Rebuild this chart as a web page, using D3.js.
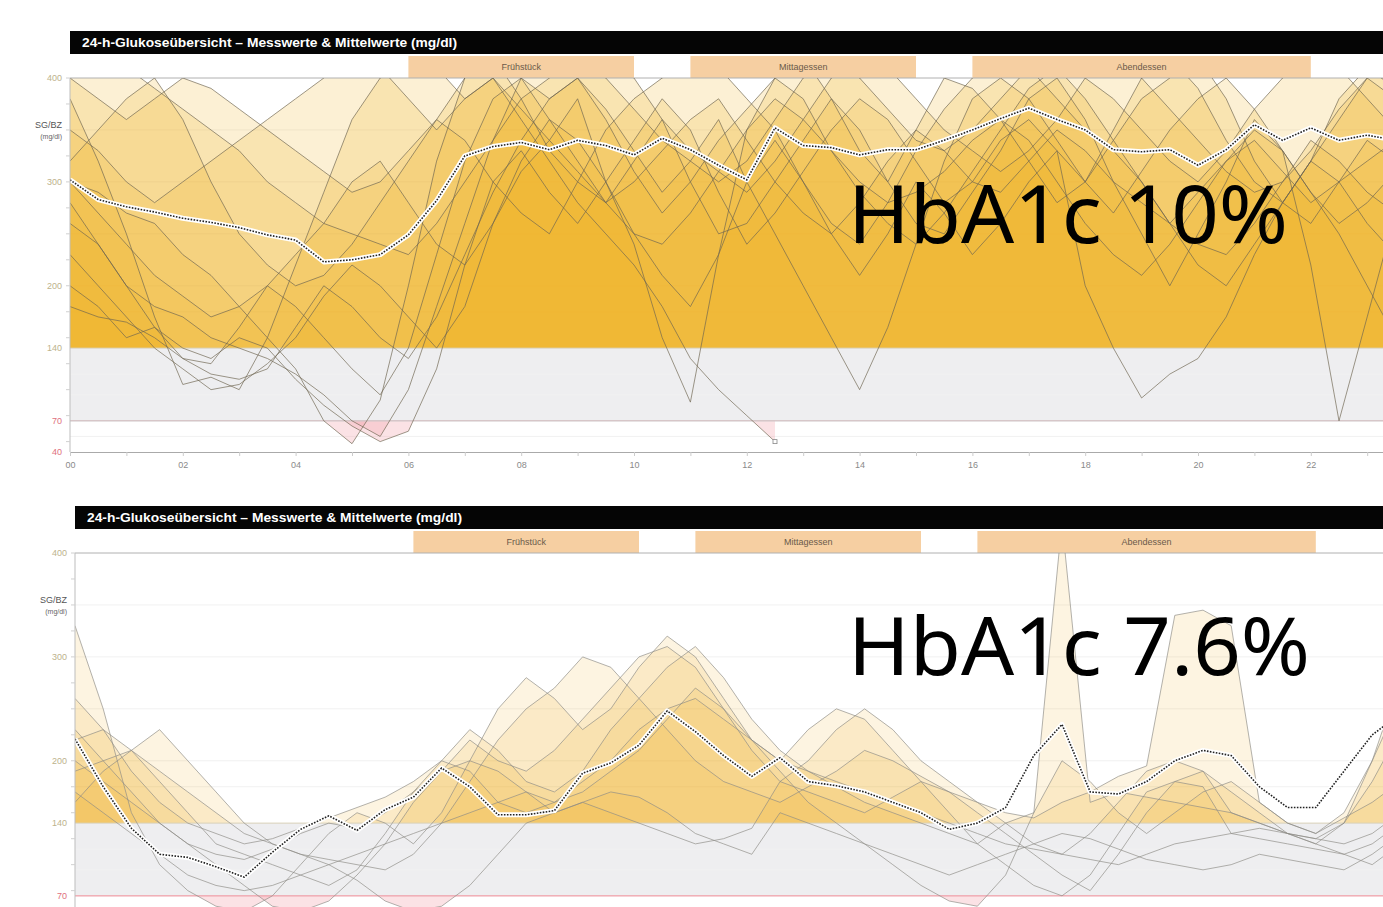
<!DOCTYPE html>
<html>
<head>
<meta charset="utf-8">
<script src="https://cdn.jsdelivr.net/npm/d3@7"></script>
<style>
body{margin:0;background:#fff;}
svg{display:block;font-family:"Liberation Sans",Arial,sans-serif;}
</style>
</head>
<body>
<svg></svg>
<script>
//chart values
var title = "24-h-Glukoseübersicht – Messwerte & Mittelwerte (mg/dl)"
var meals = ["Frühstück","Mittagessen","Abendessen"]
var mealStart = [6,11,16]
var mealEnd = [10,15,22]
var hourTicks = [0,2,4,6,8,10,12,14,16,18,20,22]
var hourLabels = ["00","02","04","06","08","10","12","14","16","18","20","22"]
var yTicksTop = [400,300,200,140,70,40]
var yTicksBottom = [400,300,200,140,70]
var hba1c = ["HbA1c 10%","HbA1c 7.6%"]
var hours = d3.range(49).map(function(i){return i/2})

//top day: single days, every 30 min
var tracesTop = [
 [380,320,250,170,105,112,100,150,220, 290,360,400,420,410,380,400,370, 340,380,300,240,150,88,230,350, 400,420,380,330,300,350,400,390, 360,320,280,300,350,400,420,390, 340,300,280,320,380,410,390,380],
 [300,290,270,260,230,210,180,150,120, 70,48,90,200,320,400,420,380, 330,300,280,320,360,300,250,260, 300,340,380,350,300,260,250,290, 330,380,400,360,300,250,200,250, 300,360,330,220,70,170,270,300],
 [260,240,200,180,170,150,140,130,115, 95,70,55,100,180,260,340,400, 420,400,370,330,290,320,360,300, 250,200,150,100,160,240,320,380, 400,380,340,300,340,380,400,420, 380,320,280,260,300,340,320,300],
 [400,380,360,380,400,390,370,350,330, 310,290,300,330,360,340,300,270, 250,300,350,380,400,420,410,380, 350,300,260,240,280,330,370,400, 420,410,380,350,330,300,260,220, 200,240,280,320,360,400,420,410],
 [230,200,170,140,120,100,105,125,150, 190,220,200,170,140,180,260,320, 360,340,300,250,210,180,230,300, 340,300,250,210,250,300,270,230, 260,300,330,200,140,92,115,130, 170,230,280,320,300,260,230,240],
 [200,180,150,160,140,130,150,140,110, 85,65,50,60,120,220,300,330, 290,260,300,340,380,350,290,240, 270,310,350,380,360,320,280,300, 340,360,330,300,270,310,350,380, 400,370,330,290,260,280,310,330],
 [350,330,300,280,300,320,340,360,380, 400,420,410,380,350,380,400,360, 320,280,250,220,180,130,100,75, 50,null,null,null,null,null,null,null, null,null,null,null,null,null,null,null, null,null,null,null,null,null,null,null],
 [320,350,380,400,360,300,250,220,200, 210,240,280,320,360,400,420,400, 380,400,420,400,360,330,310,290, 320,360,400,420,410,380,350,330, 310,330,360,400,420,400,370,340, 310,290,300,330,370,400,380,350],
 [280,240,200,160,130,115,110,120,160, 200,180,150,130,170,230,290,340, 380,400,360,310,270,300,340,370, 400,380,330,290,260,240,270,310, 350,390,410,380,340,300,260,240, 230,260,300,340,320,290,270,280],
 [180,170,165,150,130,125,160,200,180, 150,120,95,140,230,320,380,400, 360,320,280,250,240,270,310,350, 380,360,330,300,280,290,310,340, 360,340,300,260,230,210,240,280, 320,350,330,290,250,200,150,170],
 [400,420,410,390,370,350,330,300,280, 260,250,240,230,260,300,340,380, 400,420,400,370,340,320,300,320, 360,400,420,400,370,340,330,350, 380,410,420,400,380,350,320,300, 330,370,400,420,410,380,350,380],
 [300,270,240,210,190,170,180,200,230, 260,300,320,280,240,220,260,310, 340,310,280,300,330,360,380,340, 300,270,250,280,320,350,330,300, 290,320,350,330,300,280,260,290, 320,340,310,280,300,320,340,330]
]
var meanTop = [302,283,276,271,265,261,256,249,244,223,225,230,249,282,325,334,338,331,340,335,326,342,331,316,302,352,335,333,326,331,331,340,350,361,371,360,350,331,329,331,316,331,355,340,352,340,345,340,320]

//bottom day
var tracesBottom = [
 [330,250,150,100,75,60,55,70,100, 130,150,140,120,150,200,250,280, 260,230,250,290,320,300,260,220, 190,160,140,120,100,80,65,60, 90,150,200,180,150,130,150,170, 180,160,140,130,150,200,280,340],
 [220,230,210,180,150,120,110,100,90, 80,95,130,170,200,230,210,180, 170,190,230,260,290,310,280,240, 210,190,175,160,150,140,130,120, 140,150,430,160,170,165,160,155, 150,140,130,120,110,100,120,160],
 [160,190,210,230,200,170,140,120,110, 105,100,95,110,140,180,220,250, 270,300,290,260,230,200,180,170, 160,175,190,210,200,185,170,160, 150,145,160,170,185,195,340,345, 330,160,140,130,145,160,180,200],
 [200,180,160,140,120,100,80,60,55, 65,90,120,160,190,220,200,190, 210,240,270,300,310,290,250,210, 180,200,230,250,230,200,180,160, 140,120,110,130,160,190,200,190, 170,150,130,120,140,180,230,260],
 [190,200,210,190,170,150,130,120,110, 100,85,65,55,60,80,110,140, 150,160,150,140,130,120,125,135, 180,170,160,150,165,180,170,150, 130,110,90,75,110,150,180,190, 150,140,130,125,120,130,150,170],
 [260,230,190,160,140,130,120,125,135, 145,155,165,180,200,190,160,150, 160,180,200,230,250,260,240,220, 200,230,250,240,210,180,150,120, 100,80,70,90,130,170,180,175, 130,125,120,115,110,120,140,160],
 [170,150,130,110,90,80,75,80,90, 100,110,120,130,140,150,160,170, 150,160,170,165,150,130,120,110, 150,140,130,120,110,100,90,100, 110,120,130,125,115,105,100,95, 100,110,105,100,95,110,130,150],
 [230,200,170,140,120,110,105,115,130, 140,135,150,170,190,200,190,170, 160,170,190,210,240,270,250,220, 200,190,180,170,160,150,140,130, 120,115,110,105,100,110,120,125, 130,135,130,125,140,200,260,320]
]
var meanBottom = [221,175,135,110,107,98,88,112,134,147,133,153,165,193,175,148,148,152,188,198,215,248,228,205,185,203,180,176,170,160,150,134,140,155,205,235,170,168,180,200,210,205,175,155,155,190,225,245,250]

var makeTranslateString = function(x,y)
{
    return "translate("+x+","+y+")";
}

//one day panel
var drawPanel = function(svg,p,traces,mean,yTicks,label)
{
    var right = 1383
    var xScale = d3.scaleLinear()
        .domain([0,24])
        .range([p.left,p.left+24*56.4])
    var yScale = d3.scaleLinear()
        .domain([40,400])
        .range([p.top+374,p.top])

    var g = svg.append("g")
    var defs = g.append("defs")
    defs.append("clipPath").attr("id","plot"+p.id)
        .append("rect")
        .attr("x",p.left).attr("y",yScale(400))
        .attr("width",right-p.left).attr("height",yScale(40)-yScale(400))
    defs.append("clipPath").attr("id","high"+p.id)
        .append("rect")
        .attr("x",p.left).attr("y",yScale(400))
        .attr("width",right-p.left).attr("height",yScale(140)-yScale(400))
    defs.append("clipPath").attr("id","low"+p.id)
        .append("rect")
        .attr("x",p.left).attr("y",yScale(70))
        .attr("width",right-p.left).attr("height",yScale(40)-yScale(70))

    //header
    g.append("rect")
        .attr("x",p.left)
        .attr("y",p.top-47)
        .attr("width",right-p.left)
        .attr("height",23)
        .attr("fill","#050505")
    g.append("text")
        .text(title)
        .attr("x",p.left+12)
        .attr("y",p.top-31)
        .attr("fill","#fff")
        .attr("font-weight","bold")
        .attr("font-size",12)
        .attr("textLength",375)
        .attr("lengthAdjust","spacingAndGlyphs")

    //meal bands
    g.selectAll(".meal")
        .data(meals)
        .enter()
        .append("rect")
        .attr("x",function(d,i){return xScale(mealStart[i])})
        .attr("y",p.top-22)
        .attr("width",function(d,i){return xScale(mealEnd[i])-xScale(mealStart[i])})
        .attr("height",22)
        .attr("fill","#f6cfa2")
    g.selectAll(".mealText")
        .data(meals)
        .enter()
        .append("text")
        .text(function(d){return d})
        .attr("x",function(d,i){return (xScale(mealStart[i])+xScale(mealEnd[i]))/2})
        .attr("y",p.top-8)
        .attr("text-anchor","middle")
        .attr("font-size",9)
        .attr("fill","#6a5a4a")

    //target band + grid
    g.append("rect")
        .attr("x",p.left).attr("y",yScale(140))
        .attr("width",right-p.left).attr("height",yScale(70)-yScale(140))
        .attr("fill","#eeeef0")
    g.selectAll(".grid")
        .data([350,300,250,200,175,115,95,55])
        .enter()
        .append("line")
        .attr("x1",p.left).attr("x2",right)
        .attr("y1",function(d){return yScale(d)})
        .attr("y2",function(d){return yScale(d)})
        .attr("stroke","#f1f1f1")

    var high = d3.area()
        .defined(function(d){return d!=null})
        .x(function(d,i){return xScale(hours[i])})
        .y0(yScale(140))
        .y1(function(d){return yScale(d)})
    var low = d3.area()
        .defined(function(d){return d!=null})
        .x(function(d,i){return xScale(hours[i])})
        .y0(yScale(70))
        .y1(function(d){return yScale(d)})
    var line = d3.line()
        .defined(function(d){return d!=null})
        .x(function(d,i){return xScale(hours[i])})
        .y(function(d){return yScale(d)})

    g.append("g")
        .attr("clip-path","url(#high"+p.id+")")
        .selectAll("path")
        .data(traces)
        .enter()
        .append("path")
        .attr("d",high)
        .attr("fill","#efb22a")
        .attr("fill-opacity",p.fillOp)
    g.append("g")
        .attr("clip-path","url(#low"+p.id+")")
        .selectAll("path")
        .data(traces)
        .enter()
        .append("path")
        .attr("d",low)
        .attr("fill","#f2a0aa")
        .attr("fill-opacity",0.3)

    //limit lines
    g.append("line")
        .attr("x1",p.left).attr("x2",right)
        .attr("y1",yScale(140)).attr("y2",yScale(140))
        .attr("stroke","#d8d0b8")
    g.append("line")
        .attr("x1",p.left).attr("x2",right)
        .attr("y1",yScale(70)).attr("y2",yScale(70))
        .attr("stroke",p.lowLine)
        .attr("stroke-width",1.2)
    g.append("line")
        .attr("x1",p.left).attr("x2",right)
        .attr("y1",yScale(400)).attr("y2",yScale(400))
        .attr("stroke","#b0b0b0")

    var lines = g.append("g")
        .attr("clip-path","url(#plot"+p.id+")")
    lines.selectAll("path")
        .data(traces)
        .enter()
        .append("path")
        .attr("d",line)
        .attr("fill","none")
        .attr("stroke",p.lineColor)
        .attr("stroke-opacity",0.75)
        .attr("stroke-width",0.9)

    //end marks of broken days
    traces.forEach(function(t)
    {
        var last = -1
        t.forEach(function(v,i){if(v!=null){last=i}})
        if(last<48)
        {
            lines.append("rect")
                .attr("x",xScale(hours[last])-2)
                .attr("y",yScale(t[last])-2)
                .attr("width",4).attr("height",4)
                .attr("fill","#fff")
                .attr("stroke","#888")
                .attr("stroke-width",0.8)
        }
    })

    //mean
    lines.append("path")
        .attr("d",line(mean))
        .attr("fill","none")
        .attr("stroke","#fff")
        .attr("stroke-width",5)
        .attr("stroke-linejoin","round")
    lines.append("path")
        .attr("d",line(mean))
        .attr("fill","none")
        .attr("stroke","#222")
        .attr("stroke-width",1.6)
        .attr("stroke-dasharray","1.6,1.4")

    //axes
    g.append("line")
        .attr("x1",p.left).attr("x2",p.left)
        .attr("y1",yScale(400)).attr("y2",yScale(40))
        .attr("stroke","#bdbdbd")
    var minor = d3.range(50,401,25)
    g.selectAll(".ytick")
        .data(minor)
        .enter()
        .append("line")
        .attr("x1",p.left-4).attr("x2",p.left)
        .attr("y1",function(d){return yScale(d)})
        .attr("y2",function(d){return yScale(d)})
        .attr("stroke","#d0d0d0")
    g.selectAll(".ylab")
        .data(yTicks)
        .enter()
        .append("text")
        .text(function(d){return d})
        .attr("x",p.left-8)
        .attr("y",function(d){return yScale(d)+3})
        .attr("text-anchor","end")
        .attr("font-size",9)
        .attr("fill",function(d){return d<=70?"#e0707e":"#bdb38c"})
    g.append("text")
        .text("SG/BZ")
        .attr("x",p.left-8)
        .attr("y",yScale(352))
        .attr("text-anchor","end")
        .attr("font-size",9)
        .attr("fill","#555")
    g.append("text")
        .text("(mg/dl)")
        .attr("x",p.left-8)
        .attr("y",yScale(341))
        .attr("text-anchor","end")
        .attr("font-size",7)
        .attr("fill","#666")

    //x axis only where it is on the page
    if(p.showAxis)
    {
        var xAxis = d3.axisBottom(xScale)
            .tickValues(d3.range(0,24,1))
            .tickSize(4)
            .tickFormat(function(d){
                var k = hourTicks.indexOf(d)
                return k<0?"":hourLabels[k]
            })
        var ax = g.append("g")
            .attr("transform",makeTranslateString(0,yScale(40)))
            .call(xAxis)
        ax.select(".domain").attr("stroke","#aaa")
        ax.selectAll(".tick line").attr("stroke","#ccc")
        ax.selectAll(".tick text")
            .attr("fill","#8a8a8a")
            .attr("font-size",9)
            .attr("dy","0.95em")
    }

    //hba1c
    g.append("text")
        .text(label.text)
        .attr("x",848)
        .attr("y",label.y)
        .attr("font-family","'Noto Sans','Open Sans',sans-serif")
        .attr("font-size",80)
        .attr("fill","#000")
        .attr("textLength",label.w)
        .attr("lengthAdjust","spacingAndGlyphs")
}

var initGraph = function()
{
    var screen = {width:1383,height:907}
    var svg = d3.select("svg")
        .attr("width",screen.width)
        .attr("height",screen.height)
    svg.append("rect")
        .attr("width",screen.width).attr("height",screen.height)
        .attr("fill","#fff")

    drawPanel(svg,{id:"a",left:70,top:78,fillOp:0.2,lineColor:"#6e6650",lowLine:"#cfc6c8",showAxis:true},
        tracesTop,meanTop,yTicksTop,{text:hba1c[0],y:243,w:440})
    drawPanel(svg,{id:"b",left:75,top:553,fillOp:0.14,lineColor:"#8e8c86",lowLine:"#f0a4ae",showAxis:false},
        tracesBottom,meanBottom,yTicksBottom,{text:hba1c[1],y:675,w:462})
}
initGraph()
</script>
</body>
</html>
